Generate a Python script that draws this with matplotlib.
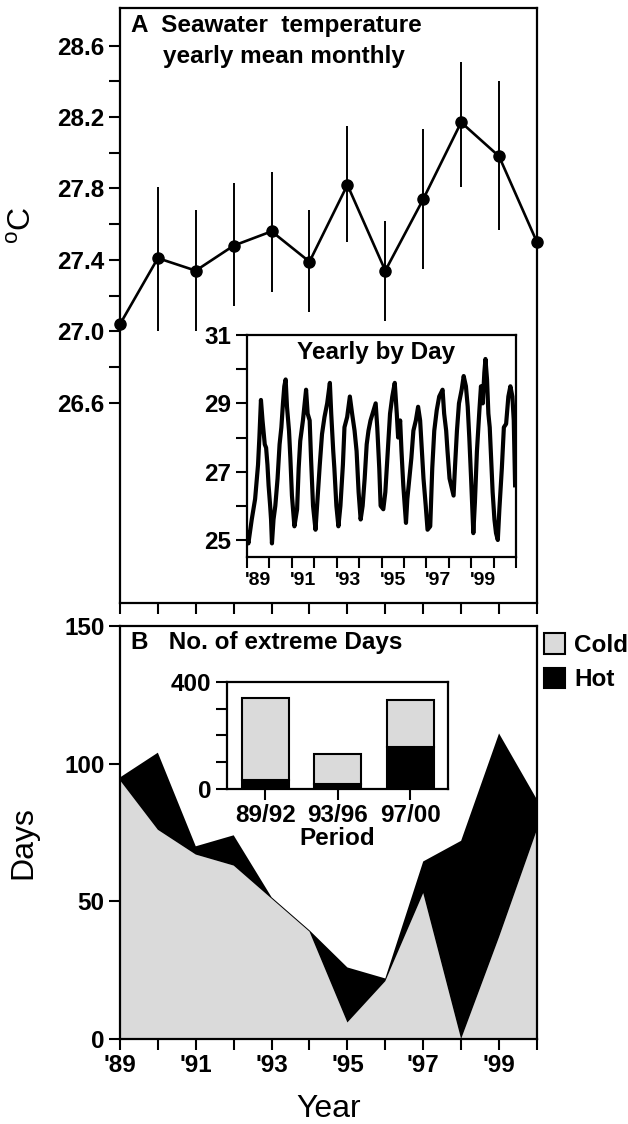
import numpy as np
import matplotlib
matplotlib.use('Agg')
import matplotlib.pyplot as plt

plt.rcParams['font.family'] = ['Liberation Sans', 'DejaVu Sans']
plt.rcParams['mathtext.fontset'] = 'custom'
plt.rcParams['mathtext.rm'] = 'Liberation Sans'

# Panel A: yearly mean of monthly temperature with range bars
years = np.arange(1989, 2001)
temp_mean = [27.04, 27.41, 27.34, 27.48, 27.56, 27.39, 27.82, 27.34, 27.74, 28.17, 27.98, 27.50]
temp_low = [26.69, 27.00, 27.00, 27.14, 27.22, 27.11, 27.50, 27.06, 27.35, 27.81, 27.57, 27.11]
temp_high = [27.39, 27.81, 27.68, 27.83, 27.89, 27.68, 28.15, 27.62, 28.13, 28.51, 28.40, 27.89]

# Inset A: daily series (years since 1989, deg C)
day_offset = [0.00, 0.07, 0.22, 0.37, 0.50, 0.56, 0.63, 0.70, 0.80, 0.86, 0.92, 0.97,
              1.04, 1.08, 1.12, 1.19, 1.27, 1.37, 1.46, 1.54, 1.61, 1.67, 1.73, 1.79,
              1.88, 1.94, 2.01, 2.12, 2.24, 2.31, 2.38, 2.50, 2.64, 2.71, 2.80, 2.86,
              2.95, 3.06, 3.13, 3.25, 3.35, 3.46, 3.58, 3.70, 3.76, 3.85, 3.90, 3.99,
              4.08, 4.17, 4.28, 4.35, 4.47, 4.59, 4.69, 4.80, 4.89, 4.98, 5.07, 5.16,
              5.25, 5.34, 5.42, 5.51, 5.74, 5.81, 5.90, 5.96, 6.08, 6.17, 6.26, 6.38,
              6.48, 6.59, 6.68, 6.74, 6.83, 6.89, 6.97, 7.09, 7.15, 7.24, 7.33, 7.42,
              7.53, 7.63, 7.72, 7.78, 7.87, 7.97, 8.05, 8.17, 8.26, 8.35, 8.46, 8.57,
              8.72, 8.79, 8.88, 8.94, 9.03, 9.21, 9.27, 9.36, 9.45, 9.57, 9.66, 9.76,
              9.84, 9.91, 9.99, 10.09, 10.16, 10.25, 10.36, 10.43, 10.51, 10.58, 10.63, 10.70,
              10.76, 10.82, 10.88, 10.95, 11.03, 11.10, 11.18, 11.25, 11.36, 11.45, 11.55, 11.65,
              11.74, 11.83, 11.89, 11.92, 11.95]
day_temp = [25.2, 24.9, 25.6, 26.2, 27.2, 28.0, 29.1, 28.5, 27.8, 27.7, 27.2, 26.6,
            26.0, 25.6, 24.9, 25.6, 26.0, 26.8, 27.8, 28.3, 29.0, 29.5, 29.7, 28.9,
            28.2, 27.4, 26.3, 25.4, 25.9, 27.1, 27.9, 28.5, 29.4, 28.7, 28.5, 27.4,
            26.0, 25.3, 26.0, 27.2, 28.1, 28.6, 29.0, 29.6, 28.7, 27.6, 27.1, 26.0,
            25.4, 26.0, 27.2, 28.3, 28.6, 29.2, 28.7, 28.2, 27.6, 26.4, 25.6, 26.0,
            26.8, 27.8, 28.2, 28.5, 29.0, 28.3, 27.1, 26.0, 25.9, 26.4, 27.4, 28.7,
            29.2, 29.6, 28.7, 28.0, 28.5, 27.6, 26.6, 25.5, 26.2, 26.8, 27.4, 28.2,
            28.5, 28.9, 28.5, 27.8, 26.8, 26.0, 25.3, 25.4, 27.1, 28.2, 28.8, 29.2,
            29.4, 28.7, 28.2, 27.6, 26.8, 26.3, 27.1, 28.2, 29.0, 29.4, 29.8, 29.5,
            28.9, 28.0, 26.8, 25.2, 26.1, 27.6, 28.8, 29.5, 29.0, 29.9, 30.3, 29.7,
            28.7, 28.3, 27.4, 26.4, 25.6, 25.2, 25.0, 25.9, 27.1, 28.3, 28.4, 29.2,
            29.5, 29.2, 28.5, 27.6, 26.6]

# Panel B: number of extreme days per year
cold_days = [94, 76, 67, 63, 51, 39, 6, 21, 53, 0, 37, 76]
hot_days = [1, 28, 3, 11, 0.5, 0.5, 20, 1, 11.5, 72, 74, 11]

# Inset B: totals by period
periods = ['89/92', '93/96', '97/00']
cold_period = [304, 115, 175]
hot_period = [34, 17, 155]

gray = '#dadada'
FS = 17.5

fig = plt.figure(figsize=(6.28, 11.24), dpi=100)

def style_axes(ax, lw=1.6, size=FS):
    for s in ax.spines.values():
        s.set_linewidth(lw)
    ax.tick_params(which='both', direction='out', width=1.5, length=8, labelsize=size, pad=3)
    for lab in ax.get_xticklabels() + ax.get_yticklabels():
        lab.set_fontweight('bold')

# ---- panel A ----
axA = fig.add_axes([0.191, 0.4635, 0.664, 0.5294])
mean = np.array(temp_mean)
yerr = [mean - np.array(temp_low), np.array(temp_high) - mean]
axA.errorbar(years, mean, yerr=yerr, fmt='-o', color='black', lw=1.9, ms=8,
             elinewidth=1.4, capsize=0, clip_on=False, zorder=3)
axA.set_xlim(1989, 2000)
axA.set_ylim(25.48, 28.81)
axA.set_yticks(np.arange(26.6, 28.61, 0.4))
axA.set_yticklabels(['%.1f' % v for v in np.arange(26.6, 28.61, 0.4)])
axA.set_yticks(np.arange(26.8, 28.5, 0.4), minor=True)
axA.set_xticks(years)
axA.set_xticklabels([])
style_axes(axA)
axA.text(0.026, 0.970, 'A  Seawater  temperature', transform=axA.transAxes,
         ha='left', va='center', fontsize=FS, fontweight='bold')
axA.text(0.103, 0.918, 'yearly mean monthly', transform=axA.transAxes,
         ha='left', va='center', fontsize=FS, fontweight='bold')

# ---- inset A ----
axIA = fig.add_axes([0.393, 0.5044, 0.429, 0.1975])
axIA.plot(1989 + np.array(day_offset), day_temp, color='black', lw=3.0)
axIA.set_xlim(1989, 2001)
axIA.set_ylim(24.5, 31)
axIA.set_yticks([25, 27, 29, 31])
axIA.set_yticks([26, 28, 30], minor=True)
axIA.set_xticks(np.arange(1989, 2002))
axIA.set_xticklabels([])
lab_years = np.arange(1989, 2000, 2)
axIA.set_xticks(lab_years + 0.5, minor=True)
axIA.set_xticklabels(["'%02d" % (y % 100) for y in lab_years], minor=True)
style_axes(axIA)
axIA.tick_params(axis='x', which='minor', length=0, labelsize=14, pad=11)
for lab in axIA.get_xticklabels(minor=True):
    lab.set_fontweight('bold')
axIA.text(0.48, 0.923, 'Yearly by Day', transform=axIA.transAxes,
          ha='center', va='center', fontsize=FS, fontweight='bold')

# ---- panel B ----
axB = fig.add_axes([0.191, 0.0756, 0.664, 0.3674])
axB.stackplot(years, cold_days, hot_days, colors=[gray, 'black'],
              labels=['Cold', 'Hot'], lw=0)
axB.set_xlim(1989, 2000)
axB.set_ylim(0, 150)
axB.set_yticks([0, 50, 100, 150])
axB.set_xticks(years)
axB.set_xticklabels(["'%02d" % (y % 100) if y % 2 == 1 else '' for y in years])
style_axes(axB)
axB.text(0.026, 0.959, 'B   No. of extreme Days', transform=axB.transAxes,
         ha='left', va='center', fontsize=FS, fontweight='bold')
leg = axB.legend(loc='upper left', bbox_to_anchor=(1.0, 1.0), frameon=False,
                 handlelength=0.87, handleheight=0.9, handletextpad=0.35,
                 borderaxespad=0.2, borderpad=0.1, labelspacing=0.45,
                 prop=dict(size=FS, weight='bold'))
for h in leg.legend_handles:
    h.set_edgecolor('black')
    h.set_linewidth(1.5)

# ---- inset B ----
axIB = fig.add_axes([0.361, 0.298, 0.3525, 0.0955])
xp = np.arange(len(periods))
axIB.bar(xp, hot_period, width=0.65, color='black', edgecolor='black', lw=1.5)
axIB.bar(xp, cold_period, bottom=hot_period, width=0.65, color=gray,
         edgecolor='black', lw=1.5)
axIB.set_xlim(-0.53, 2.52)
axIB.set_ylim(0, 400)
axIB.set_yticks([0, 400])
axIB.set_yticks([100, 200, 300], minor=True)
axIB.set_xticks(xp)
axIB.set_xticklabels(periods)
style_axes(axIB)
axIB.set_xlabel('Period', fontsize=FS, fontweight='bold', labelpad=0)

# axis labels
fig.text(0.037, 0.80, r'$^{\rm o}$C', rotation=90, ha='center', va='center', fontsize=23)
fig.text(0.037, 0.25, 'Days', rotation=90, ha='center', va='center', fontsize=23)
fig.text(0.524, 0.013, 'Year', ha='center', va='center', fontsize=23)

fig.savefig('out.png', dpi=100)
